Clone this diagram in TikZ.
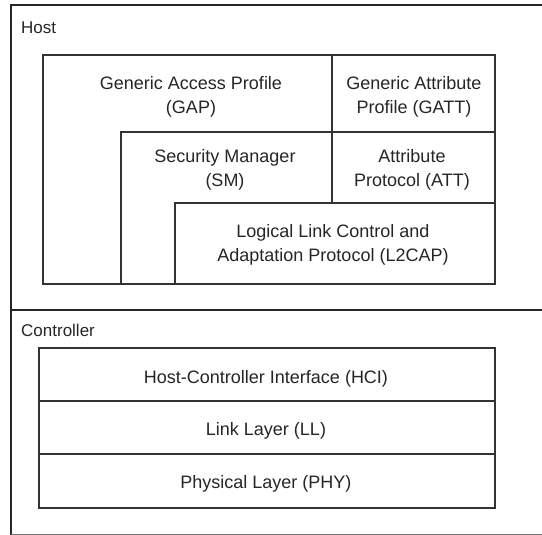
\documentclass[tikz,border=0pt]{standalone}
\usepackage{fontspec}
\setmainfont{Liberation Sans}
\begin{document}
\begin{tikzpicture}[x=1pt,y=-1pt,
  frame/.style={line width=1.8pt,draw=black!85},
  layer/.style={line width=1.2pt,draw=black!80,fill=white},
  lbl/.style={font=\fontsize{18}{24}\selectfont,align=center,inner sep=0pt,text=black!85},
  title/.style={font=\fontsize{17}{20}\selectfont,anchor=west,inner sep=0pt,text=black!85}]
  % canvas
  \fill[white] (0,0) rectangle (542,535);
  \useasboundingbox (0,0) rectangle (542,535);

  % outer frame: open on the right side
  \draw[frame] (545,5) -- (11,5) -- (11,535);
  \draw[frame] (11,310) -- (545,310);
  \draw[line width=1pt,draw=black!55] (11,534) -- (545,534);

  \node[title] (host) at (21,28) {Host};
  \node[title] (ctrl) at (21,330) {Controller};

  % host stack, each layer drawn over the one it sits inside
  \draw[layer] (43,55) rectangle (332,284);
  \draw[layer] (332,55) rectangle (495,132);
  \draw[layer] (121,132) rectangle (332,284);
  \draw[layer] (332,132) rectangle (495,203);
  \draw[layer] (175,203) rectangle (495,284);

  \node[lbl] (gap)   at (191,96.5)  {Generic Access Profile\\(GAP)};
  \node[lbl] (gatt)  at (414,96.5)  {Generic Attribute\\Profile (GATT)};
  \node[lbl] (sm)    at (225,169.5) {Security Manager\\(SM)};
  \node[lbl] (att)   at (412,169.5) {Attribute\\Protocol (ATT)};
  \node[lbl] (l2cap) at (333,244.5) {Logical Link Control and\\Adaptation Protocol (L2CAP)};

  % controller stack
  \draw[layer] (39,348) rectangle (495,401);
  \draw[layer] (39,401) rectangle (495,454);
  \draw[layer] (39,454) rectangle (495,508);

  \node[lbl] (hci) at (266,379) {Host-Controller Interface (HCI)};
  \node[lbl] (ll)  at (266,430.5) {Link Layer (LL)};
  \node[lbl] (phy) at (266,484) {Physical Layer (PHY)};
\end{tikzpicture}
\end{document}
